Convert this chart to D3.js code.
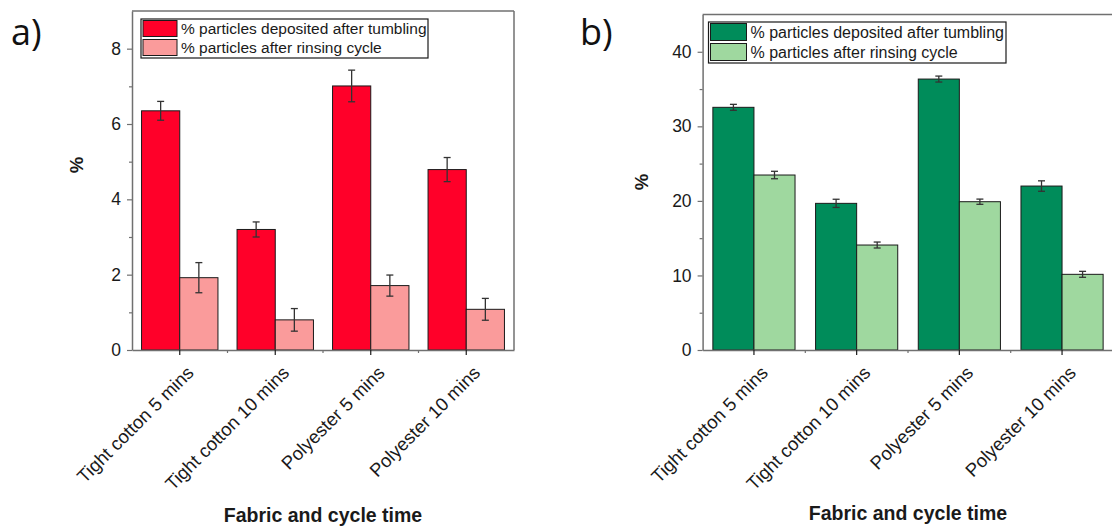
<!DOCTYPE html>
<html>
<head>
<meta charset="utf-8">
<script src="https://cdn.jsdelivr.net/npm/d3@7"></script>
<style>
  body { margin: 0; background: #fff; }
  svg { display: block; font-family: "Liberation Sans", Arial, sans-serif; }
</style>
</head>
<body>
<svg id="chart" width="1112" height="529"></svg>
<script>
// categories and series
var categories = ["Tight cotton 5 mins", "Tight cotton 10 mins", "Polyester 5 mins", "Polyester 10 mins"]
var seriesNames = ["% particles deposited after tumbling", "% particles after rinsing cycle"]

// panel a values
var aTumbling = [6.35, 3.2, 7.01, 4.79]
var aTumblingErr = [0.25, 0.2, 0.42, 0.32]
var aRinsing = [1.92, 0.8, 1.71, 1.08]
var aRinsingErr = [0.4, 0.3, 0.28, 0.29]
var aTicks = [0, 2, 4, 6, 8]
var aMinorTicks = [1, 3, 5, 7]

// panel b values
var bTumbling = [32.55, 19.67, 36.34, 21.99]
var bTumblingErr = [0.4, 0.55, 0.4, 0.7]
var bRinsing = [23.47, 14.08, 19.89, 10.15]
var bRinsingErr = [0.5, 0.4, 0.35, 0.4]
var bTicks = [0, 10, 20, 30, 40]
var bMinorTicks = [5, 15, 25, 35]

var svg = d3.select("#chart")
svg.append("rect").attr("width", 1112).attr("height", 529).attr("fill", "#fff")

var axisColor = "#707070"
var fontFam = "Liberation Sans, Arial, sans-serif"

function drawPanel(p){
  var g = svg.append("g").attr("class", "panel-" + p.tag)

  var x = d3.scaleBand().domain(categories).range([p.left, p.right]).paddingInner(0).paddingOuter(0)
  var groupW = x.bandwidth() * 0.8
  var xs = d3.scaleBand().domain([0, 1]).range([0, groupW])
  var y = d3.scaleLinear().domain(p.domain).range([p.bottom, p.top])

  var rows = []
  categories.forEach(function(c, i){
    rows.push({cat: c, s: 0, v: p.tumbling[i], e: p.tumblingErr[i]})
    rows.push({cat: c, s: 1, v: p.rinsing[i], e: p.rinsingErr[i]})
  })

  // bars
  g.selectAll(".bar")
      .data(rows)
    .enter().append("rect")
      .attr("class", "bar")
      .attr("x", function(d){ return x(d.cat) + (x.bandwidth() - groupW)/2 + xs(d.s) })
      .attr("y", function(d){ return y(d.v) })
      .attr("width", xs.bandwidth())
      .attr("height", function(d){ return y(0) - y(d.v) })
      .attr("fill", function(d){ return p.colors[d.s] })
      .attr("stroke", "#1a1a1a")
      .attr("stroke-width", 1)

  // error bars
  var err = g.selectAll(".err")
      .data(rows)
    .enter().append("g")
      .attr("class", "err")
      .attr("transform", function(d){ return "translate(" + (x(d.cat) + (x.bandwidth() - groupW)/2 + xs(d.s) + xs.bandwidth()/2) + ",0)" })
      .attr("stroke", "#333")
      .attr("stroke-width", 1.3)
  err.append("line")
      .attr("y1", function(d){ return y(d.v + d.e) })
      .attr("y2", function(d){ return y(d.v - d.e) })
  err.append("line").attr("x1", -3.5).attr("x2", 3.5)
      .attr("y1", function(d){ return y(d.v + d.e) })
      .attr("y2", function(d){ return y(d.v + d.e) })
  err.append("line").attr("x1", -3.5).attr("x2", 3.5)
      .attr("y1", function(d){ return y(d.v - d.e) })
      .attr("y2", function(d){ return y(d.v - d.e) })

  // frame top / right
  g.append("line").attr("x1", p.left).attr("x2", p.right).attr("y1", p.top).attr("y2", p.top)
      .attr("stroke", axisColor).attr("stroke-width", 1.5)
  g.append("line").attr("x1", p.right).attr("x2", p.right).attr("y1", p.top).attr("y2", p.bottom)
      .attr("stroke", axisColor).attr("stroke-width", 1.5)

  // y axis
  var yAxis = g.append("g")
      .attr("transform", "translate(" + p.left + ",0)")
      .call(d3.axisLeft(y).tickValues(p.ticks).tickSize(5).tickPadding(6).tickSizeOuter(0))
  yAxis.attr("font-family", fontFam)
  yAxis.select(".domain").attr("stroke", axisColor).attr("stroke-width", 1.5)
  yAxis.selectAll(".tick line").attr("stroke", axisColor).attr("stroke-width", 1.2)
  yAxis.selectAll(".tick text").attr("font-size", 17.5).attr("fill", "#1a1a1a")

  var yMinor = g.append("g")
      .attr("transform", "translate(" + p.left + ",0)")
      .call(d3.axisLeft(y).tickValues(p.minorTicks).tickSize(3).tickFormat(""))
  yMinor.select(".domain").remove()
  yMinor.selectAll(".tick line").attr("stroke", axisColor).attr("stroke-width", 1.2)

  // x axis
  var xAxis = g.append("g")
      .attr("transform", "translate(0," + p.bottom + ")")
      .call(d3.axisBottom(x).tickSize(5).tickSizeOuter(0))
  xAxis.attr("font-family", fontFam)
  xAxis.select(".domain").attr("stroke", axisColor).attr("stroke-width", 1.5)
  xAxis.selectAll(".tick line").attr("stroke", "#1a1a1a").attr("stroke-width", 1.2)
  xAxis.selectAll(".tick text")
      .attr("font-size", p.catFont)
      .attr("fill", "#1a1a1a")
      .attr("text-anchor", "end")
      .attr("dy", 0)
      .attr("y", 0)
      .attr("transform", "translate(15,24) rotate(-45)")

  // minor ticks between categories
  g.selectAll(".xminor")
      .data(categories.slice(1))
    .enter().append("line")
      .attr("x1", function(d){ return x(d) })
      .attr("x2", function(d){ return x(d) })
      .attr("y1", p.bottom)
      .attr("y2", p.bottom + 3)
      .attr("stroke", axisColor)
      .attr("stroke-width", 1.2)

  // axis titles
  g.append("text")
      .attr("transform", "translate(" + p.yTitleX + "," + p.yTitleY + ") rotate(-90)")
      .attr("text-anchor", "middle")
      .attr("dominant-baseline", "central")
      .attr("font-size", 18.5)
      .attr("font-weight", "bold")
      .attr("fill", "#1a1a1a")
      .text("%")

  g.append("text")
      .attr("x", (p.left + p.right)/2)
      .attr("y", p.xTitleY)
      .attr("text-anchor", "middle")
      .attr("font-size", 19.5)
      .attr("font-weight", "bold")
      .attr("fill", "#1a1a1a")
      .text("Fabric and cycle time")

  // panel letter
  g.append("text")
      .attr("x", p.letterX)
      .attr("y", 45)
      .attr("font-family", "Open Sans, sans-serif")
      .attr("font-size", 36)
      .attr("fill", "#111")
      .text(p.tag + ")")

  // legend
  var lg = g.append("g").attr("transform", "translate(" + p.legend.x + "," + p.legend.y + ")")
  lg.append("rect")
      .attr("width", p.legend.w).attr("height", p.legend.h)
      .attr("fill", "#fff").attr("stroke", "#1a1a1a").attr("stroke-width", 1.2)
  var item = lg.selectAll(".item")
      .data(seriesNames)
    .enter().append("g")
      .attr("transform", function(d, i){ return "translate(0," + (i * p.legend.row) + ")" })
  item.append("rect")
      .attr("x", 2).attr("y", 1.5)
      .attr("width", p.legend.sw).attr("height", p.legend.row - 3)
      .attr("fill", function(d, i){ return p.colors[i] })
      .attr("stroke", "#1a1a1a").attr("stroke-width", 1)
  item.append("text")
      .attr("x", p.legend.sw + 6)
      .attr("y", p.legend.row - 4)
      .attr("font-size", p.legend.font)
      .attr("fill", "#1a1a1a")
      .text(function(d){ return d })
}

drawPanel({
  tag: "a",
  left: 132, right: 514, top: 11, bottom: 350,
  domain: [0, 9], ticks: aTicks, minorTicks: aMinorTicks,
  tumbling: aTumbling, tumblingErr: aTumblingErr,
  rinsing: aRinsing, rinsingErr: aRinsingErr,
  colors: ["#ff0029", "#fa9b9b"],
  catFont: 18.5,
  yTitleX: 76.5, yTitleY: 165,
  xTitleY: 522,
  letterX: 11,
  legend: {x: 141, y: 19, w: 287, h: 39, row: 19, sw: 34, font: 15.5}
})

drawPanel({
  tag: "b",
  left: 702.6, right: 1113.4, top: 14.5, bottom: 350,
  domain: [0, 45], ticks: bTicks, minorTicks: bMinorTicks,
  tumbling: bTumbling, tumblingErr: bTumblingErr,
  rinsing: bRinsing, rinsingErr: bRinsingErr,
  colors: ["#008c5a", "#9fd89f"],
  catFont: 18.5,
  yTitleX: 641, yTitleY: 182,
  xTitleY: 520,
  letterX: 580,
  legend: {x: 708.5, y: 22, w: 297.5, h: 41, row: 20, sw: 36, font: 16}
})
</script>
</body>
</html>
